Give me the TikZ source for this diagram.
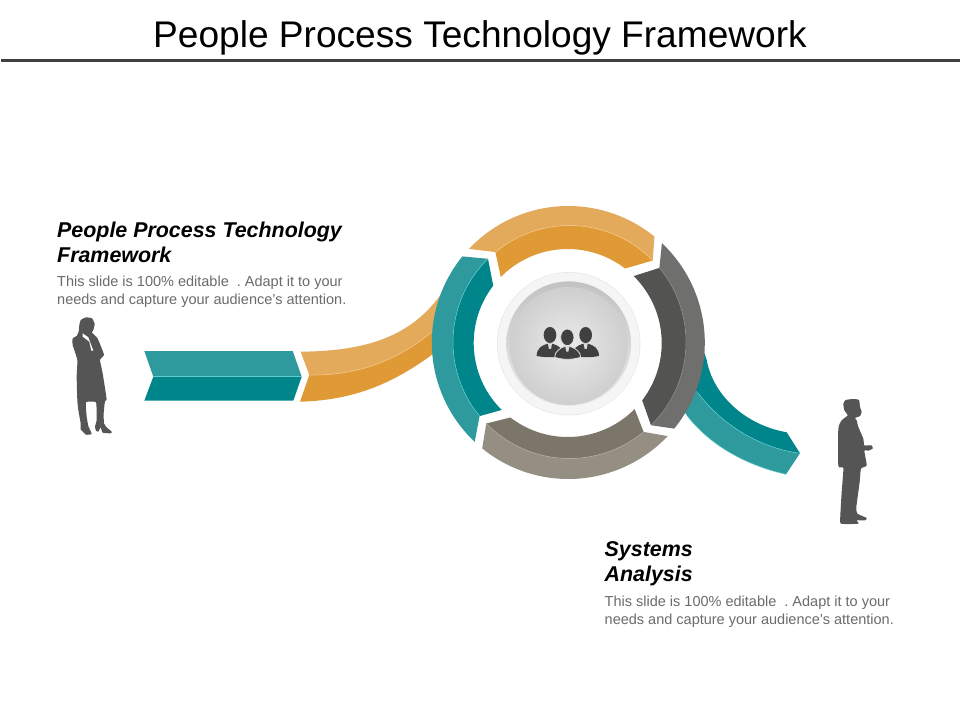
\documentclass[tikz,border=0pt]{standalone}
\usepackage{fontspec}
\setmainfont{Liberation Sans}
\definecolor{oL}{HTML}{E3AA5C}\definecolor{oD}{HTML}{E09A35}\definecolor{oE}{HTML}{F3CB8E}
\definecolor{tL}{HTML}{2E9A9E}\definecolor{tD}{HTML}{00858B}\definecolor{tE}{HTML}{62CDD0}
\definecolor{gL}{HTML}{6F6F6D}\definecolor{gD}{HTML}{535352}\definecolor{gE}{HTML}{8E8E8C}
\definecolor{bL}{HTML}{958E83}\definecolor{bD}{HTML}{7C766A}\definecolor{bE}{HTML}{B5AFA5}
\definecolor{ink}{HTML}{555555}\definecolor{body}{HTML}{6B6B6B}
\frenchspacing
\tikzset{
 titletext/.style={anchor=base,inner sep=0,font=\fontsize{37.1}{41}\selectfont,text=black},
 headtext/.style={anchor=north west,inner sep=0,align=left,font=\fontsize{21.4}{25}\selectfont\bfseries\itshape,text=black},
 bodytext/.style={anchor=north west,inner sep=0,align=left,font=\fontsize{14.5}{18}\selectfont,text=body},
 sil/.style={fill=ink},
 icon/.style={fill=black!75}
}
\def\cx{568.3}\def\cy{342.5}
\def\mx{569.5}\def\my{342}
\def\ix{567.7}\def\iy{343}
\def\rO{136.5}\def\rM{116.5}\def\rI{94}
\begin{document}
\begin{tikzpicture}[x=1pt,y=-1pt,line join=round]
\useasboundingbox (0,0) rectangle (960,720);
\fill[white] (0,0) rectangle (960,720);
% title
\node[titletext] (title) at (480,47) {People Process Technology Framework};
\fill[black!75] (1,58.7) rectangle (960,61.7);
% left swoosh
\fill[oL] (300.7,351.7) .. controls (365,351) and (420,338) .. (452,276) -- (447,318)
  .. controls (410,355) and (365,376) .. (309.3,375) -- cycle;
\fill[oD] (309.3,375) .. controls (365,376) and (410,355) .. (447,318) -- (445,345)
  .. controls (400,380) and (360,400) .. (300,401.7) -- cycle;
\draw[oE,line width=.5pt] (309.3,375) .. controls (365,376) and (410,355) .. (447,318);
% teal chevron
\fill[tL] (144.3,351) -- (292.7,351) -- (301.7,376.7) -- (153.3,376.7) -- cycle;
\fill[tD] (153.3,376.7) -- (301.7,376.7) -- (293.3,400.7) -- (144.3,400.7) -- cycle;
\draw[tE,line width=.5pt] (153.3,376.7) -- (301.7,376.7);
% right swoosh
\fill[tD] (700,340) -- (706.7,360) .. controls (713,395) and (745,425) .. (786.7,432.3) -- (800,453.3)
  .. controls (760,448) and (722,425) .. (698.3,393.3) -- (690,385) -- cycle;
\fill[tL] (690,385) -- (698.3,393.3) .. controls (722,425) and (760,448) .. (800,453.3) -- (786,474.3)
  .. controls (745,465) and (710,445) .. (687.3,416) -- (680,405) -- cycle;
\draw[tE,line width=.5pt] (698.3,393.3) .. controls (722,425) and (760,448) .. (800,453.3);
\draw[tE,line width=.5pt] (786,474.3) .. controls (745,465) and (710,445) .. (687.3,416);
% ring segments
\foreach \a/\L/\D/\E in {133.3/tL/tD/tE,223.3/oL/oD/oE,313.3/gL/gD/gE,43.3/bL/bD/bE}{
  \pgfmathsetmacro\b{\a+85.8}
  \pgfmathsetmacro\mA{\a+7.2}
  \pgfmathsetmacro\mB{\b+6.5}
  \pgfmathsetmacro\iA{\a+1.3}
  \pgfmathsetmacro\iB{\b-1.5}
  \fill[\L] plot[domain=\a:\b,samples=50,variable=\t] ({\cx+\rO*cos(\t)},{\cy+\rO*sin(\t)})
    -- plot[domain=\mB:\mA,samples=50,variable=\t] ({\mx+\rM*cos(\t)},{\my+\rM*sin(\t)}) -- cycle;
  \fill[\D] plot[domain=\mA:\mB,samples=50,variable=\t] ({\mx+\rM*cos(\t)},{\my+\rM*sin(\t)})
    -- plot[domain=\iB:\iA,samples=50,variable=\t] ({\ix+\rI*cos(\t)},{\iy+\rI*sin(\t)}) -- cycle;
  \draw[\E,line width=.5pt] plot[domain=\mA:\mB,samples=50,variable=\t] ({\mx+\rM*cos(\t)},{\my+\rM*sin(\t)});
}
% centre disc
\fill[black!10] (568.7,343.7) circle[radius=71.6];
\fill[black!4] (568.7,343.7) circle[radius=71];
\shade[top color=black!24,bottom color=black!8] (568.7,343.7) circle[radius=62.3];
\shade[inner color=black!8,outer color=black!19] (568.7,346) circle[radius=59];
% icon
\begin{scope}[shift={(420,195)},x=.3333pt,y=-.3333pt]
  \foreach \hx in {390,497}{
    \fill[icon] (\hx,420) ellipse[x radius=19,y radius=24];
    \fill[icon] (\hx-40,483) .. controls (\hx-40,460) and (\hx-25,452) .. (\hx-10,447)
       -- (\hx+10,447) .. controls (\hx+25,452) and (\hx+40,460) .. (\hx+40,483)
       .. controls (\hx+15,488) and (\hx-15,488) .. (\hx-40,483) -- cycle;
    \fill[white!85!black] (\hx-6,447) -- (\hx+6,447) -- (\hx+3,462) -- (\hx-3,462) -- cycle;
  }
  \fill[icon,draw=black!12,line width=.8pt] (442,427) ellipse[x radius=20,y radius=25];
  \fill[icon,draw=black!12,line width=.8pt] (404,487) .. controls (404,470) and (420,460) .. (432,455)
     -- (452,455) .. controls (466,460) and (482,470) .. (482,487)
     .. controls (455,495) and (430,495) .. (404,487) -- cycle;
  \fill[white!85!black] (436,455) -- (448,455) -- (445,470) -- (439,470) -- cycle;
\end{scope}
% woman
\begin{scope}[shift={(60,310)},x=.3333pt,y=-.3333pt]
  \fill[sil] plot[smooth cycle,tension=.25] coordinates {(78,22)(96,25)(104,42)(100,60)(96,68)(112,84)(124,112)(132,135)(120,150)(128,190)(140,268)(135,273)(131,310)(132,340)(140,352)(156,366)(150,370)(128,368)(122,352)(115,365)(108,362)(105,350)(110,330)(108,277)(78,277)(80,320)(85,348)(95,372)(78,374)(62,358)(62,340)(55,300)(52,272)(50,200)(52,150)(38,105)(38,85)(50,78)(56,65)(58,45)(62,30)};
  \fill[white] (68,70) -- (85,82) -- (100,122) -- (94,122) -- (88,95) -- (68,80) -- cycle;
\end{scope}
% man
\begin{scope}[shift={(825,392)},x=.3333pt,y=-.3333pt]
  \fill[sil] plot[smooth cycle,tension=.3] coordinates {(62,24)(85,21)(102,24)(105,45)(110,60)(105,72)(90,78)(95,85)(100,105)(115,140)(118,160)(140,160)(143,170)(130,176)(118,176)(125,220)(108,230)(104,270)(94,345)(97,365)(125,378)(120,385)(95,385)(100,395)(48,395)(46,370)(50,300)(55,228)(40,222)(40,110)(50,85)(68,70)(58,55)(55,35)};
\end{scope}
% texts
\node[headtext] (h1) at (57,221.3) {People Process Technology\\Framework};
\node[bodytext] (b1) at (57,275.5) {This slide is 100\% editable\ \ . Adapt it to your\\needs and capture your audience's attention.};
\node[headtext] (h2) at (604.5,541.3) {Systems\\Analysis};
\node[bodytext] (b2) at (604.5,595.5) {This slide is 100\% editable\ \ . Adapt it to your\\needs and capture your audience's attention.};
\end{tikzpicture}
\end{document}
